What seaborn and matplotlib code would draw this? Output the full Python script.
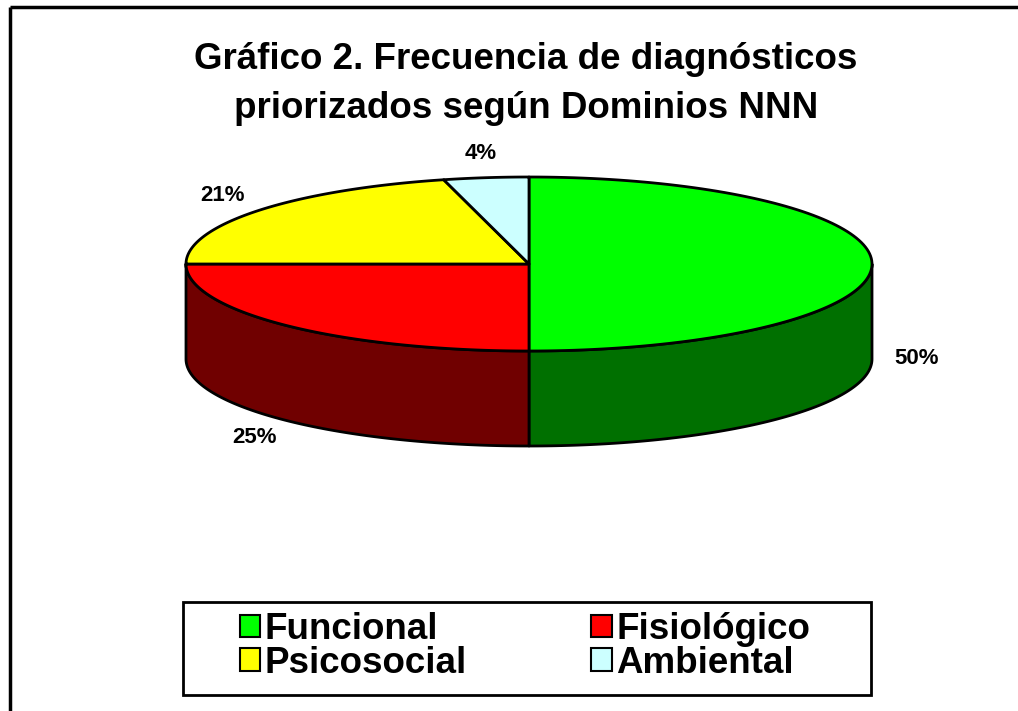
import matplotlib

matplotlib.use("Agg")
import matplotlib.pyplot as plt
from matplotlib.patches import Patch, Polygon
import numpy as np
import seaborn as sns

# --- data ---
CATEGORIES = ["Funcional", "Fisiológico", "Psicosocial", "Ambiental"]
PERCENTS = [50, 25, 21, 4]
TOP_COLORS = ["#00FF00", "#FF0000", "#FFFF00", "#CCFFFF"]
SIDE_COLORS = ["#007000", "#700000", "#8C8C00", "#7FA0A0"]
TITLE = "Gráfico 2. Frecuencia de diagnósticos\npriorizados según Dominios NNN"

# --- layout (pixel units, y grows downwards) ---
W, H = 1018, 711
CX, CY = 529, 264  # centre of the top face
RX, RY = 343, 87  # radii of the top ellipse
DEPTH = 95  # height of the cylinder side
EDGE = 2.0

sns.set_theme(style="white")
plt.rcParams["font.family"] = ["Liberation Sans", "DejaVu Sans"]
plt.rcParams["text.color"] = "black"
plt.rcParams["legend.labelcolor"] = "black"

fig = plt.figure(figsize=(W / 100, H / 100), dpi=100)
ax = fig.add_axes([0, 0, 1, 1])
ax.set_xlim(0, W)
ax.set_ylim(H, 0)
ax.axis("off")


def ellipse_pts(th_from, th_to, dy=0.0, n=120):
    th = np.radians(np.linspace(th_from, th_to, n))
    return np.column_stack([CX + RX * np.cos(th), CY - RY * np.sin(th) + dy])


# slice angles: start at 12 o'clock, go clockwise
cum = np.concatenate([[0], np.cumsum(PERCENTS)]) / sum(PERCENTS) * 360
starts = 90 - cum[:-1]
ends = 90 - cum[1:]

# side walls (only the front half, angles between -180 and 0, is visible)
for s, e, col in zip(starts, ends, SIDE_COLORS):
    hi, lo = min(s, 0), max(e, -180)
    if hi <= lo:
        continue
    top = ellipse_pts(hi, lo)
    bottom = ellipse_pts(lo, hi, dy=DEPTH)
    ax.add_patch(Polygon(np.vstack([top, bottom]), closed=True,
                         facecolor=col, edgecolor="black", lw=EDGE,
                         joinstyle="round"))

# top faces
for s, e, col in zip(starts, ends, TOP_COLORS):
    arc = ellipse_pts(s, e)
    pts = np.vstack([[CX, CY], arc])
    ax.add_patch(Polygon(pts, closed=True, facecolor=col,
                         edgecolor="black", lw=EDGE, joinstyle="round"))

# percentage labels
for s, e, p in zip(starts, ends, PERCENTS):
    mid = np.radians((s + e) / 2)
    lx = CX + (RX + 45) * np.cos(mid)
    ly = CY - (RY + 24) * np.sin(mid)
    if np.sin(mid) <= 0.01:
        ly += DEPTH
    ax.text(lx, ly, f"{p}%", ha="center", va="center",
            fontsize=16, fontweight="bold", color="black")

# title
ax.text(526, 42, TITLE, ha="center", va="top", fontsize=26.5,
        fontweight="bold", linespacing=1.5, color="black")

# outer frame (only top and left edges are inside the picture)
ax.plot([10, W], [7, 7], color="black", lw=2.5, solid_capstyle="butt")
ax.plot([10, 10], [7, H], color="black", lw=2.5, solid_capstyle="butt")

# legend box
ax.add_patch(plt.Rectangle((183, 602), 688, 93, facecolor="white",
                           edgecolor="black", lw=2))
order = [0, 2, 1, 3]
handles = [Patch(facecolor=TOP_COLORS[i], edgecolor="black", lw=1.5,
                 label=CATEGORIES[i]) for i in order]
leg = fig.legend(handles=handles, ncol=2, frameon=False, mode="expand",
                 loc="center",
                 bbox_to_anchor=(240 / W, 1 - 693 / H, (810 - 240) / W, 93 / H),
                 prop={"weight": "bold", "size": 26.5},
                 handlelength=0.55, handleheight=0.55, handletextpad=0.12,
                 labelspacing=-0.05, borderpad=0, borderaxespad=0)
for t in leg.get_texts():
    t.set_color("black")

fig.savefig("out.png", dpi=100, facecolor="white")
